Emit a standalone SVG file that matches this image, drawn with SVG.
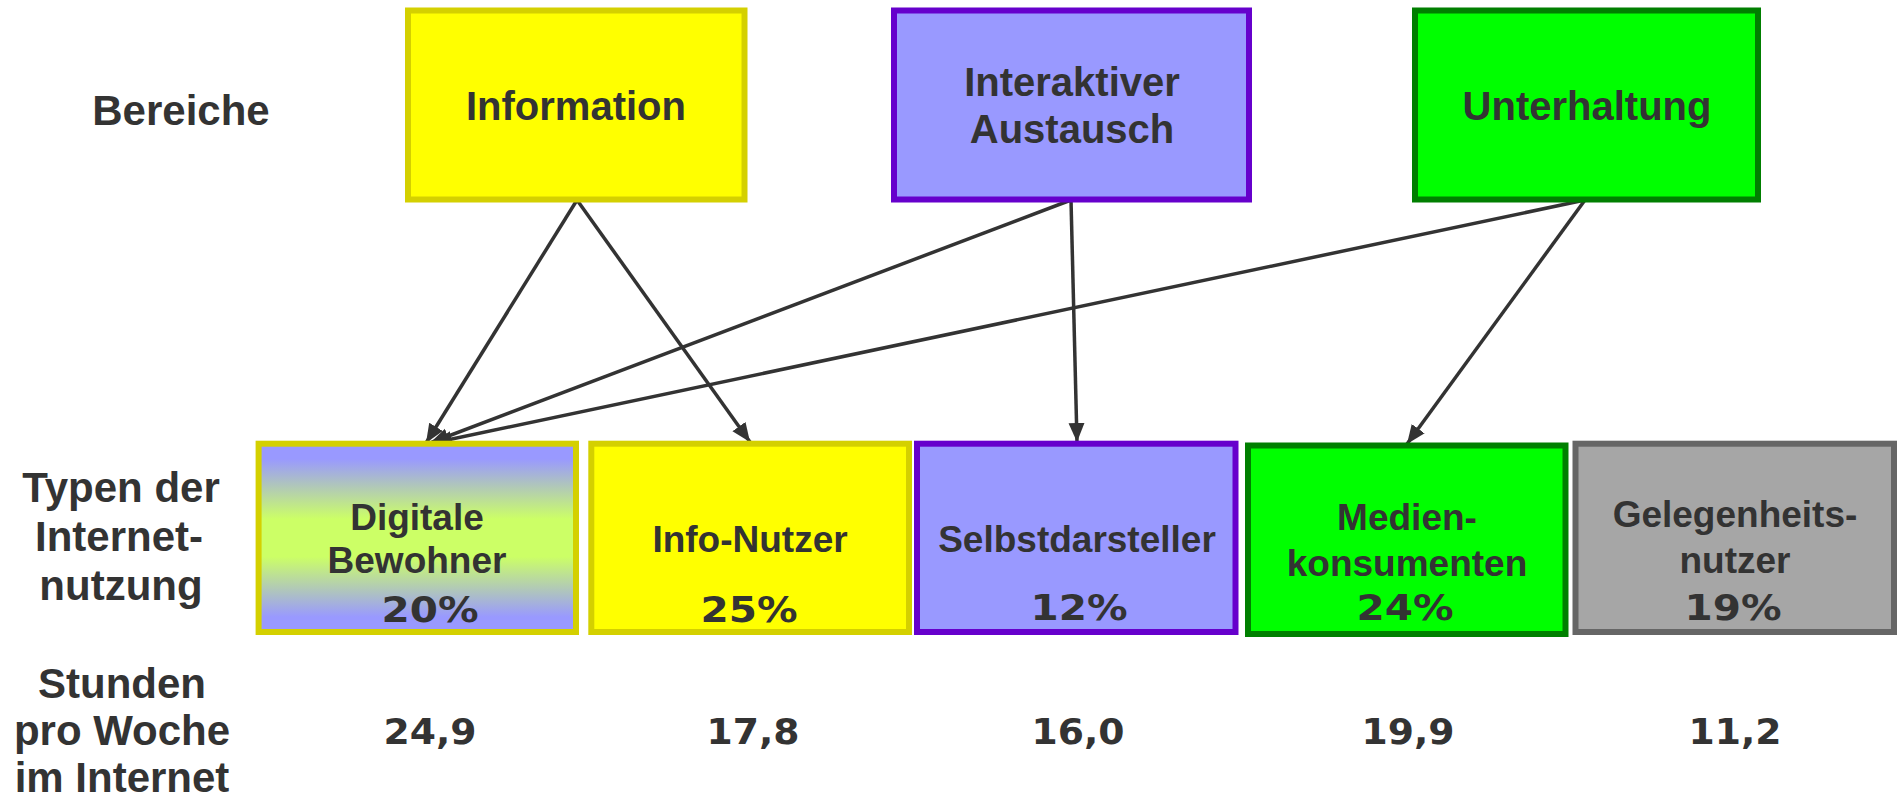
<svg xmlns="http://www.w3.org/2000/svg" width="1901" height="803" viewBox="0 0 1901 803">
<style>
.lbl{font-family:"Liberation Sans",Arial,sans-serif;font-weight:bold;fill:#333333;text-anchor:middle}
.top{font-size:40px}
.side{font-size:42px}
.box{font-size:37px}
.num{font-family:"DejaVu Sans",Verdana,sans-serif;font-weight:bold;font-size:35px;fill:#333333;text-anchor:middle}
.yel{fill:#ffff00;stroke:#d4d000;stroke-width:6}
.pur{fill:#9999ff;stroke:#6600cc;stroke-width:6}
.grn{fill:#00ff00;stroke:#007f00;stroke-width:6}
.gry{fill:#a6a6a6;stroke:#666666;stroke-width:6}
.con{stroke:#333333;stroke-width:3.5;fill:none;marker-end:url(#ah)}
</style>
<defs>
<linearGradient id="gDig" x1="0" y1="0" x2="0" y2="1">
<stop offset="0" stop-color="#9999ff"/>
<stop offset="0.08" stop-color="#9999ff"/>
<stop offset="0.4" stop-color="#ccff66"/>
<stop offset="0.6" stop-color="#ccff66"/>
<stop offset="0.92" stop-color="#9999ff"/>
<stop offset="1" stop-color="#9999ff"/>
</linearGradient>
<marker id="ah" markerUnits="userSpaceOnUse" markerWidth="22" markerHeight="18" refX="19" refY="8" orient="auto">
<path d="M0,0 L19,8 L0,16 z" fill="#333333"/>
</marker>
</defs>
<rect width="1901" height="803" fill="#ffffff"/>
<g id="labels">
<text class="lbl side" x="181" y="125">Bereiche</text>
<text class="lbl side" x="121" y="502">Typen der</text>
<text class="lbl side" x="119" y="551">Internet-</text>
<text class="lbl side" x="121" y="600">nutzung</text>
<text class="lbl side" x="122" y="698">Stunden</text>
<text class="lbl side" x="122" y="745">pro Woche</text>
<text class="lbl side" x="122" y="792">im Internet</text>
</g>
<g id="hours">
<text class="num" x="430" y="744" textLength="93" lengthAdjust="spacingAndGlyphs">24,9</text>
<text class="num" x="753" y="744" textLength="93" lengthAdjust="spacingAndGlyphs">17,8</text>
<text class="num" x="1078" y="744" textLength="93" lengthAdjust="spacingAndGlyphs">16,0</text>
<text class="num" x="1408" y="744" textLength="93" lengthAdjust="spacingAndGlyphs">19,9</text>
<text class="num" x="1735" y="744" textLength="93" lengthAdjust="spacingAndGlyphs">11,2</text>
</g>
<g id="connectors">
<line class="con" x1="577" y1="200" x2="426" y2="443"/>
<line class="con" x1="577" y1="200" x2="750" y2="442"/>
<line class="con" x1="1071" y1="200" x2="430" y2="443"/>
<line class="con" x1="1071" y1="200" x2="1077" y2="442"/>
<line class="con" x1="1585" y1="200" x2="433" y2="443"/>
<line class="con" x1="1585" y1="200" x2="1407" y2="444"/>
</g>
<g id="information">
<rect class="yel" x="408" y="10.5" width="336.5" height="189"/>
<text class="lbl top" x="576" y="120">Information</text>
</g>
<g id="interaktiver-austausch">
<rect class="pur" x="894" y="10.5" width="355" height="189"/>
<text class="lbl top" x="1072" y="96">Interaktiver</text>
<text class="lbl top" x="1072" y="143">Austausch</text>
</g>
<g id="unterhaltung">
<rect class="grn" x="1415" y="10.5" width="343" height="189"/>
<text class="lbl top" x="1587" y="120">Unterhaltung</text>
</g>
<g id="digitale-bewohner">
<rect x="258.6" y="443.7" width="317.4" height="188.3" fill="url(#gDig)" stroke="#d4d000" stroke-width="6"/>
<text class="lbl box" x="417" y="530">Digitale</text>
<text class="lbl box" x="417" y="573">Bewohner</text>
<text class="num" x="430" y="622" textLength="97" lengthAdjust="spacingAndGlyphs">20%</text>
</g>
<g id="info-nutzer">
<rect class="yel" x="591.3" y="443.7" width="317.7" height="188.3"/>
<text class="lbl box" x="750" y="552">Info-Nutzer</text>
<text class="num" x="749" y="622" textLength="97" lengthAdjust="spacingAndGlyphs">25%</text>
</g>
<g id="selbstdarsteller">
<rect class="pur" x="917" y="443.7" width="318.5" height="188.3"/>
<text class="lbl box" x="1077" y="552">Selbstdarsteller</text>
<text class="num" x="1079" y="620" textLength="97" lengthAdjust="spacingAndGlyphs">12%</text>
</g>
<g id="medienkonsumenten">
<rect class="grn" x="1248" y="445.5" width="317.5" height="188.5"/>
<text class="lbl box" x="1407" y="530">Medien-</text>
<text class="lbl box" x="1407" y="576">konsumenten</text>
<text class="num" x="1405" y="620" textLength="97" lengthAdjust="spacingAndGlyphs">24%</text>
</g>
<g id="gelegenheitsnutzer">
<rect class="gry" x="1575.5" y="443.7" width="318.5" height="188.3"/>
<text class="lbl box" x="1735" y="527">Gelegenheits-</text>
<text class="lbl box" x="1735" y="573">nutzer</text>
<text class="num" x="1733" y="620" textLength="97" lengthAdjust="spacingAndGlyphs">19%</text>
</g>
</svg>
